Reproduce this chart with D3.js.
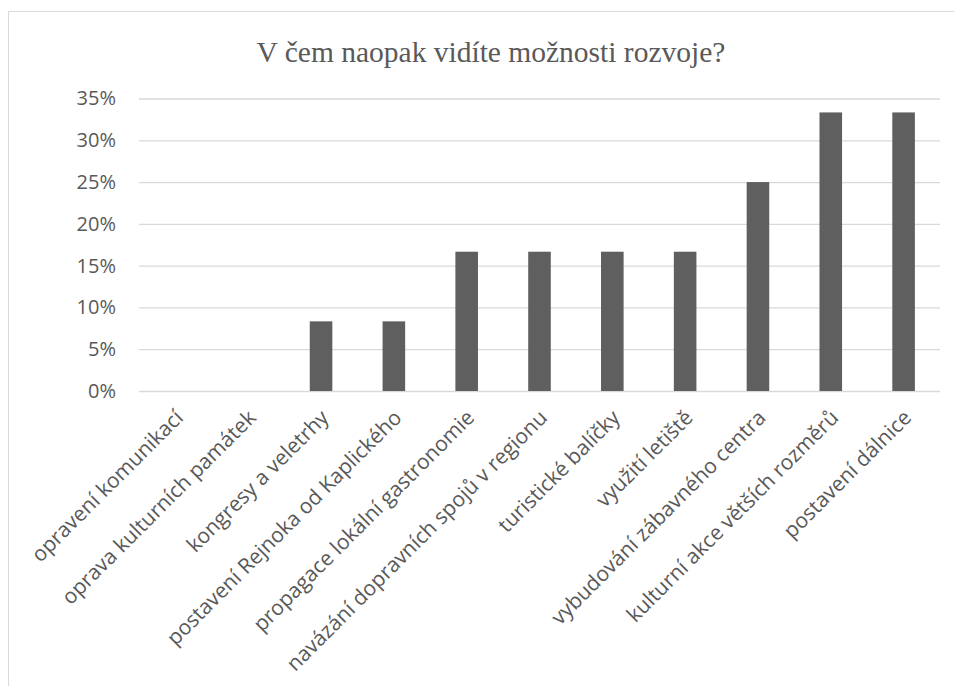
<!DOCTYPE html>
<html>
<head>
<meta charset="utf-8">
<script src="https://cdn.jsdelivr.net/npm/d3@7"></script>
<style>
  html, body { margin: 0; padding: 0; background: #fff; }
  svg { display: block; }
</style>
</head>
<body>
<svg id="chart" width="954" height="686"></svg>
<script>
// Survey answers: share of respondents per development opportunity
const titleText = "V čem naopak vidíte možnosti rozvoje?";
const categories = [
  "opravení komunikací",
  "oprava kulturních památek",
  "kongresy a veletrhy",
  "postavení Rejnoka od Kaplického",
  "propagace lokální gastronomie",
  "navázání dopravních spojů v regionu",
  "turistické balíčky",
  "využití letiště",
  "vybudování zábavného centra",
  "kulturní akce větších rozměrů",
  "postavení dálnice"
];
const values = [0, 0, 1/12, 1/12, 2/12, 2/12, 2/12, 2/12, 3/12, 4/12, 4/12];
const yTicks = [0, 0.05, 0.10, 0.15, 0.20, 0.25, 0.30, 0.35];

const svg = d3.select("#chart");
const textColor = "#595959";
const gridColor = "#d9d9d9";
const barColor = "#5f5f5f";
const sansFont = "'Open Sans', 'Noto Sans', sans-serif";

// Chart frame
svg.append("rect")
  .attr("x", 8.5).attr("y", 11.5)
  .attr("width", 1000).attr("height", 700)
  .attr("fill", "none")
  .attr("stroke", gridColor)
  .attr("stroke-width", 1);

const plot = { left: 139, right: 940, top: 98.5, bottom: 391 };

const x = d3.scaleBand()
  .domain(categories)
  .range([plot.left, plot.right])
  .paddingInner(0.69)
  .paddingOuter(0.345);

const y = d3.scaleLinear()
  .domain([0, 0.35])
  .range([plot.bottom, plot.top]);

// Title
svg.append("text")
  .attr("x", 491)
  .attr("y", 62)
  .attr("text-anchor", "middle")
  .attr("font-family", "'Liberation Serif', 'Times New Roman', serif")
  .attr("font-size", 29.5)
  .attr("fill", textColor)
  .text(titleText);

// Horizontal gridlines + percentage labels
const yAxis = d3.axisLeft(y)
  .tickValues(yTicks)
  .tickSize(-(plot.right - plot.left))
  .tickPadding(23)
  .tickFormat(d3.format(".0%"));

const gy = svg.append("g")
  .attr("transform", `translate(${plot.left},0)`)
  .call(yAxis);
gy.select(".domain").remove();
gy.selectAll(".tick line")
  .attr("stroke", gridColor)
  .attr("stroke-width", 1.3);
gy.selectAll(".tick text")
  .attr("fill", textColor)
  .attr("font-family", sansFont)
  .attr("font-size", 20);

// Bars
svg.append("g")
  .selectAll("rect")
  .data(categories.map((c, i) => ({ c, v: values[i] })))
  .join("rect")
  .attr("x", d => x(d.c))
  .attr("width", x.bandwidth())
  .attr("y", d => y(d.v))
  .attr("height", d => y(0) - y(d.v))
  .attr("fill", barColor);

// Category axis with rotated labels
const xAxis = d3.axisBottom(x).tickSize(0).tickPadding(0);
const gx = svg.append("g")
  .attr("transform", `translate(0,${plot.bottom})`)
  .call(xAxis);
gx.select(".domain").remove();
gx.selectAll(".tick text")
  .attr("fill", textColor)
  .attr("font-family", sansFont)
  .attr("font-size", 21)
  .attr("text-anchor", "end")
  .attr("dy", null)
  .attr("y", 0)
  .attr("transform", "translate(9,28) rotate(-45)");
</script>
</body>
</html>
